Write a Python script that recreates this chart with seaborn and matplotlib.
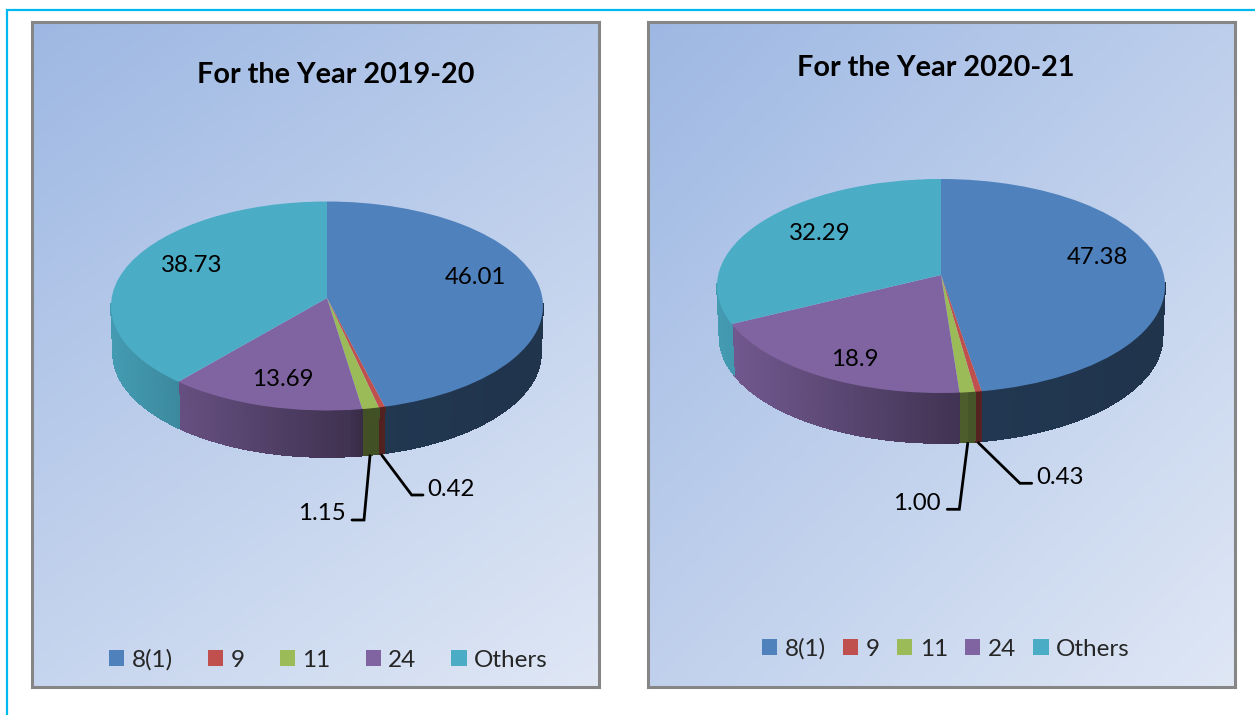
import numpy as np
import seaborn as sns
import matplotlib.pyplot as plt
from matplotlib.collections import PolyCollection
from matplotlib.colors import LinearSegmentedColormap, to_rgb
from matplotlib.lines import Line2D
from matplotlib.patches import Patch
from matplotlib.transforms import Affine2D, Transform

# data
categories = ["8(1)", "9", "11", "24", "Others"]
values_2019 = [46.01, 0.42, 1.15, 13.69, 38.73]
values_2020 = [47.38, 0.43, 1.00, 18.9, 32.29]
labels_2019 = ["46.01", "0.42", "1.15", "13.69", "38.73"]
labels_2020 = ["47.38", "0.43", "1.00", "18.9", "32.29"]
titles = ["For the Year 2019-20", "For the Year 2020-21"]
slice_colors = ["#4F81BD", "#C0504D", "#9BBB59", "#8064A2", "#4BACC6"]

sns.set_theme(style="white")
plt.rcParams["font.family"] = ["Lato", "DejaVu Sans"]

W, H = 1255, 715
fig = plt.figure(figsize=(W / 100, H / 100), dpi=100, facecolor="white")
# pixel coordinates of the image, y pointing down
px = Affine2D().scale(1, -1).translate(0, H)


class DiscTilt(Transform):
    # perspective of the disc: centre moves up, rim stays on the ellipse
    input_dims = 2
    output_dims = 2

    def __init__(self, c):
        super().__init__()
        self.c = c

    def transform_non_affine(self, xy):
        xy = np.asarray(xy, dtype=float)
        d = 1 + self.c * xy[:, 1]
        return np.column_stack([xy[:, 0] * np.sqrt(1 - self.c ** 2) / d, (xy[:, 1] + self.c) / d])


def wall_shade(x):
    return np.interp(x, [-1, -0.7, 0.1, 0.16, 1], [0.9, 0.8, 0.5, 0.43, 0.4])


def draw_walls(ax, values, tilt, shrink, depth):
    edges = np.cumsum([0] + list(values)) / 100 * 2 * np.pi
    polys, cols = [], []
    for i, color in enumerate(slice_colors):
        t = np.linspace(edges[i], edges[i + 1], max(2, int((edges[i + 1] - edges[i]) * 60)))
        top = tilt.transform_non_affine(np.column_stack([np.sin(t), np.cos(t)]))
        low = np.column_stack([top[:, 0] * shrink[0], top[:, 1] * shrink[1] - depth])
        for j in range(len(t) - 1):
            if top[j, 1] > 0.01 and top[j + 1, 1] > 0.01:
                continue
            polys.append([top[j], top[j + 1], low[j + 1], low[j]])
            cols.append(tuple(np.array(to_rgb(color)) * wall_shade((top[j, 0] + top[j + 1, 0]) / 2)))
    ax.add_collection(PolyCollection(polys, facecolors=cols, edgecolors=cols, linewidths=0.5,
                                     antialiaseds=False, zorder=1))


def draw_panel(box, ellipse, apex_y, low_ellipse, values, labels, title, title_xy, label_xy,
               leaders, legend_xy, col_space, grad):
    x0, y0, x1, y1 = box
    cx, cy, rx, ry = ellipse
    ax = fig.add_axes([x0 / W, 1 - y1 / H, (x1 - x0) / W, (y1 - y0) / H])
    wedges, _ = ax.pie(values, colors=slice_colors, startangle=90, counterclock=False,
                       wedgeprops={"linewidth": 0, "zorder": 2})
    tilt = DiscTilt((cy - apex_y) / ry)
    for w in wedges:
        w.set_transform(tilt + ax.transData)
    draw_walls(ax, values, tilt, (low_ellipse[0] / rx, low_ellipse[1] / ry), low_ellipse[2] / ry)

    # background gradient
    u, v = np.meshgrid(np.linspace(0, 1, 300), np.linspace(0, 1, 300))
    cmap = LinearSegmentedColormap.from_list("bg", ["#9EB8E3", "#DFE7F5"])
    lims = ((x0 - cx) / rx, (x1 - cx) / rx, (cy - y1) / ry, (cy - y0) / ry)
    ax.imshow(grad[0] * u + grad[1] * v, cmap=cmap, vmin=0, vmax=1, extent=lims, origin="upper",
              aspect="auto", zorder=0)
    ax.set_aspect("auto")
    ax.set_xlim(lims[0], lims[1])
    ax.set_ylim(lims[2], lims[3])
    ax.set_frame_on(True)
    for s in ax.spines.values():
        s.set_color("#868686")
        s.set_linewidth(2.2)

    ax.text(title_xy[0], title_xy[1], title, transform=px, ha="center", va="center",
            fontsize=20.7, fontweight="bold", color="black")
    for i, (x, y, ha) in label_xy.items():
        ax.text(x, y, labels[i], transform=px, ha=ha, va="center", fontsize=17.3, color="black")
    for xs, ys in leaders:
        ax.add_line(Line2D(xs, ys, transform=px, color="black", lw=2.0, solid_joinstyle="miter",
                           clip_on=False))

    handles = [Patch(facecolor=c, edgecolor="none") for c in slice_colors]
    ax.legend(handles, categories, ncol=5, frameon=False, fontsize=17.5, loc="center",
              bbox_to_anchor=legend_xy, bbox_transform=px, handlelength=0.62,
              handleheight=0.62, handletextpad=0.3, columnspacing=col_space, borderpad=0)


draw_panel((31.5, 22, 598.5, 687), (327, 306, 216, 104.5), 298, (214, 104, 47),
           values_2019, labels_2019, titles[0], (336, 75),
           {0: (475, 277, "center"), 1: (427, 490, "left"), 2: (346, 514, "right"),
            3: (283, 380, "center"), 4: (191.5, 265, "center")},
           [([381.7, 411.7, 423], [455, 495, 495]), ([370, 364, 352], [455.7, 520, 520])],
           (328.5, 660), 1.45, (0.38, 0.62))

draw_panel((647.5, 22, 1235, 687), (941, 286, 224, 107), 275, (221.5, 106, 51),
           values_2020, labels_2020, titles[1], (936, 68),
           {0: (1097, 257, "center"), 1: (1036, 477, "left"), 2: (941, 503, "right"),
            3: (855, 359, "center"), 4: (819.5, 234, "center")},
           [([978.3, 1020, 1031.7], [442.7, 483.3, 483.3]), ([967.7, 959.3, 947.3], [443.3, 509.3, 509.3])],
           (946, 649), 0.72, (0.47, 0.53))

# outer border
fig.add_artist(Line2D([7, 7, W + 5], [H + 5, 10, 10], transform=px, color="#00B8F0", lw=1.6,
                      solid_joinstyle="miter"))

fig.savefig("out.png", dpi=100, facecolor="white")
